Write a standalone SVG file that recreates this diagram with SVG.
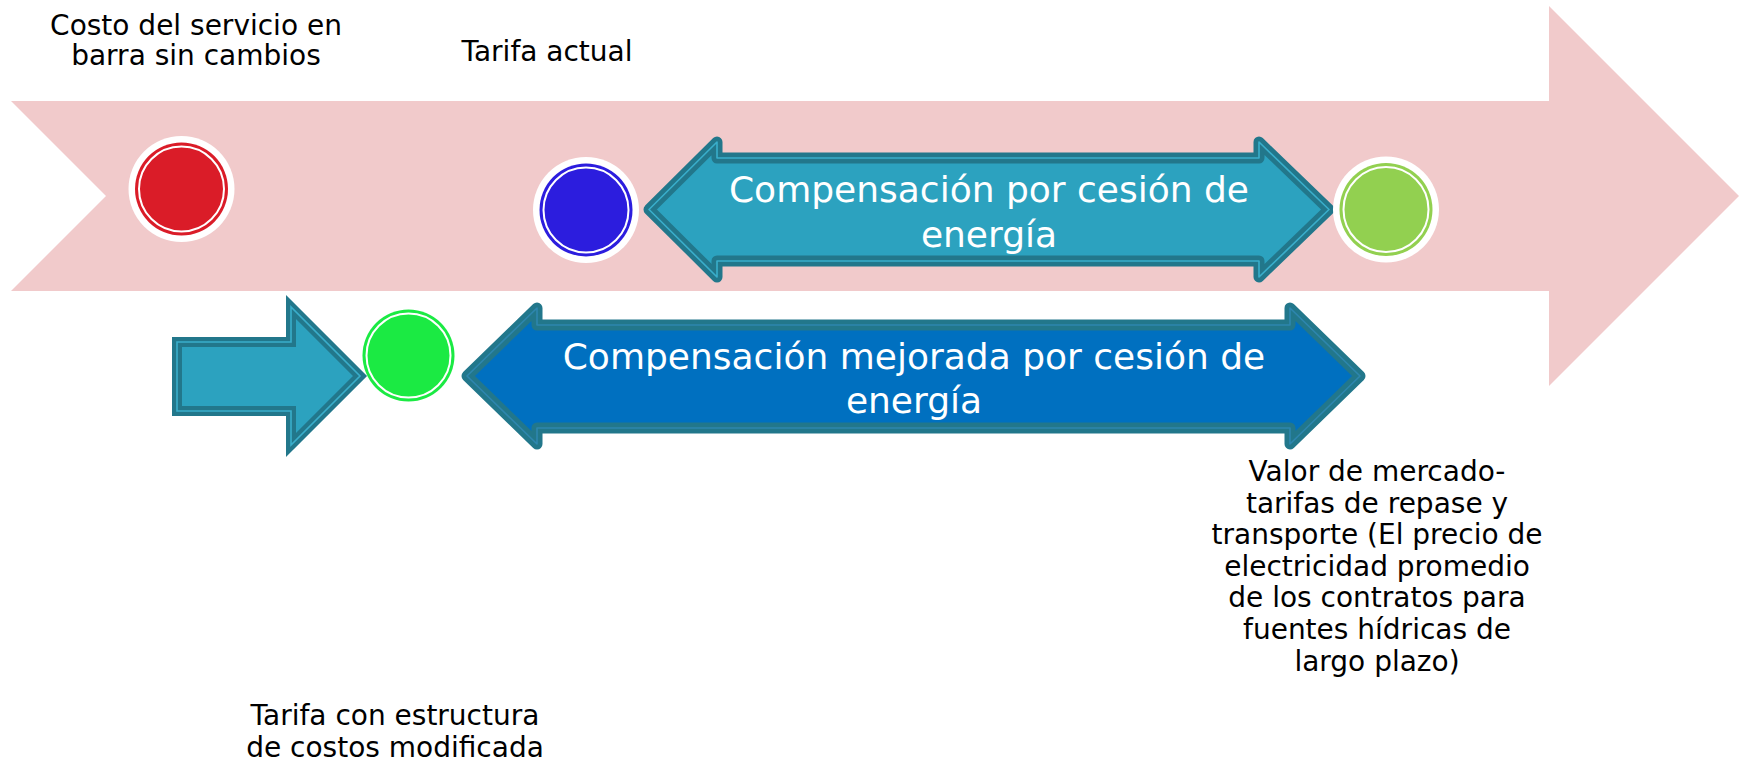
<svg xmlns="http://www.w3.org/2000/svg" width="1743" height="761" viewBox="0 0 1743 761">
<style>
.lbl{font-family:"DejaVu Sans","Verdana",sans-serif;font-size:28px;fill:#000;text-anchor:middle}
.wl{font-family:"DejaVu Sans","Verdana",sans-serif;font-size:36px;fill:#fff;text-anchor:middle}
.band{stroke:#22778B;stroke-width:11;stroke-linejoin:round}
.thin{fill:none;stroke-width:1.6;stroke-linejoin:round}
.halo{fill:#fff}
.ring{fill:none;stroke:#fff;stroke-width:2}
</style>
<rect width="1743" height="761" fill="#fff"/>
<g id="timeline">
<polygon points="11,101 1549,101 1549,6 1739,196 1549,386 1549,291 11,291 106,196" fill="#F1CACB"/>
</g>
<g id="connectors">
<g id="arrow-compensacion">
<path class="band" fill="#2CA2BF" d="M649,209.5 L717,142 L717,158 L1259,158 L1259,142 L1329,209.5 L1259,277 L1259,261 L717,261 L717,277 Z"/>
<path class="thin" stroke="#3AAECB" d="M649,209.5 L717,142 L717,158 L1259,158 L1259,142 L1329,209.5 L1259,277 L1259,261 L717,261 L717,277 Z"/>
<text class="wl" x="989" y="202">Compensación por cesión de</text>
<text class="wl" x="989" y="247">energía</text>
</g>
<g id="arrow-mejorada">
<path class="band" fill="#0070C0" d="M467,376 L537,308 L537,325 L1290,325 L1290,308 L1360,376 L1290,444 L1290,428 L537,428 L537,444 Z"/>
<path class="thin" stroke="#2E86AE" d="M467,376 L537,308 L537,325 L1290,325 L1290,308 L1360,376 L1290,444 L1290,428 L537,428 L537,444 Z"/>
<text class="wl" x="914" y="369">Compensación mejorada por cesión de</text>
<text class="wl" x="914" y="413">energía</text>
</g>
<g id="arrow-estructura">
<path fill="#2CA2BF" stroke="#22778B" stroke-width="10" stroke-linejoin="miter" d="M177,342 L291,342 L291,307 L360,376 L291,445 L291,411 L177,411 Z"/>
<path fill="none" stroke="#3AAECB" stroke-width="1.6" d="M177,342 L291,342 L291,307 L360,376 L291,445 L291,411 L177,411 Z"/>
</g>
</g>
<g id="node-costo">
<circle class="halo" cx="181.5" cy="189" r="53"/>
<circle cx="181.5" cy="189" r="46.5" fill="#DA1C28"/>
<circle class="ring" cx="181.5" cy="189" r="42.5"/>
<text class="lbl" x="196" y="35">Costo del servicio en</text>
<text class="lbl" x="196" y="65">barra sin cambios</text>
</g>
<g id="node-tarifa-actual">
<circle class="halo" cx="586" cy="210" r="53"/>
<circle cx="586" cy="210" r="46.5" fill="#2C1DDE"/>
<circle class="ring" cx="586" cy="210" r="42.5"/>
<text class="lbl" x="547" y="61">Tarifa actual</text>
</g>
<g id="node-valor-mercado">
<circle class="halo" cx="1386" cy="209.5" r="53"/>
<circle cx="1386" cy="209.5" r="46.5" fill="#92D050"/>
<circle class="ring" cx="1386" cy="209.5" r="42.5"/>
<text class="lbl" x="1377" y="481">Valor de mercado-</text>
<text class="lbl" x="1377" y="513">tarifas de repase y</text>
<text class="lbl" x="1377" y="544">transporte (El precio de</text>
<text class="lbl" x="1377" y="576">electricidad promedio</text>
<text class="lbl" x="1377" y="607">de los contratos para</text>
<text class="lbl" x="1377" y="639">fuentes hídricas de</text>
<text class="lbl" x="1377" y="671">largo plazo)</text>
</g>
<g id="node-tarifa-estructura">
<circle cx="408.5" cy="355.5" r="46" fill="#1BEA43"/>
<circle class="ring" cx="408.5" cy="355.5" r="42"/>
<text class="lbl" x="395" y="725">Tarifa con estructura</text>
<text class="lbl" x="395" y="757">de costos modificada</text>
</g>
</svg>
